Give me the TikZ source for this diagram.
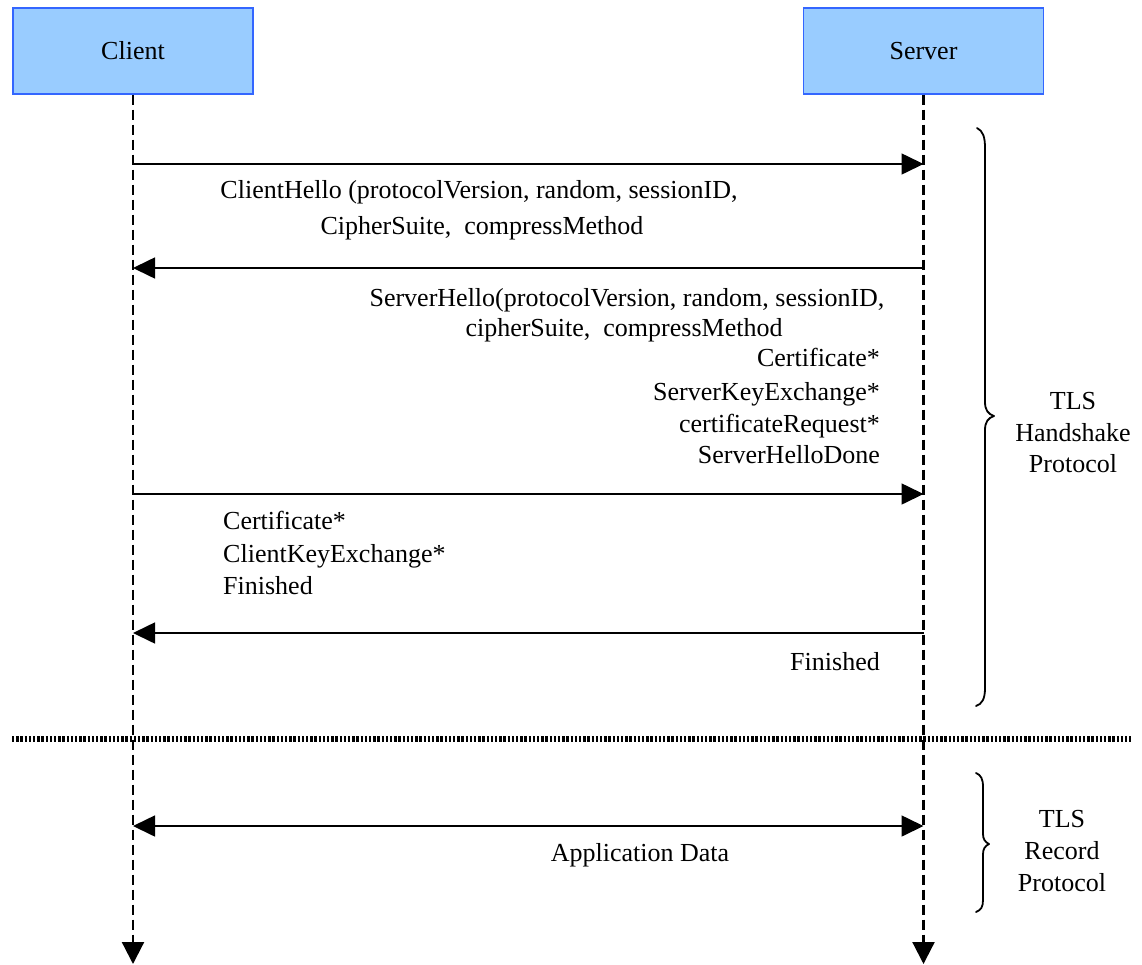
\documentclass[tikz,border=0pt]{standalone}
\usepackage{fontspec}
\setmainfont{Liberation Serif}
\usetikzlibrary{arrows.meta}
\definecolor{boxfill}{HTML}{99CCFF}
\definecolor{boxedge}{HTML}{3366FF}
\begin{document}
\begin{tikzpicture}[x=1pt,y=-1pt,
  font=\fontsize{26}{31}\selectfont,
  actor/.style={draw=boxedge, fill=boxfill, line width=1.2pt,
    minimum width=240pt, minimum height=86pt, inner sep=0pt},
  lifeline/.style={line width=2.2pt, dash pattern=on 10pt off 5pt,
    -{Triangle[length=22pt,width=22pt]}},
  msg/.style={line width=1.6pt, -{Triangle[length=22pt,width=21pt]}},
  dmsg/.style={line width=1.6pt,
    {Triangle[length=22pt,width=21pt]}-{Triangle[length=22pt,width=21pt]}},
  txt/.style={inner sep=0pt, yshift=-6pt},
  lw/.style={txt, anchor=mid west},
  le/.style={txt, anchor=mid east},
  lc/.style={txt, anchor=mid},
  bracepath/.style={line width=1.8pt, line join=round, line cap=round}]

\useasboundingbox (0,0) rectangle (1142,964);

% participants
\node[actor] (client) at (133,51) {Client};
\node[actor] (server) at (923.5,51) {Server};

% lifelines
\coordinate (cend) at (133,964);
\coordinate (send) at (923.5,964);
\draw[lifeline] (client.south) -- (cend);
\draw[lifeline] (server.south) -- (send);

% attachment points on the lifelines
\foreach \n/\y in {1/164,2/268,3/494,4/633,5/826}{
  \coordinate (c\n) at (133,\y);
  \coordinate (s\n) at (923.5,\y);
}

% handshake messages
\draw[msg] (c1) -- (s1);
\node[lc] (ch1) at (479,190) {ClientHello (protocolVersion, random, sessionID,};
\node[lc] (ch2) at (482,226) {CipherSuite,\ \ compressMethod};

\draw[msg] (s2) -- (c2);
\node[lc] (sh1) at (627,298) {ServerHello(protocolVersion, random, sessionID,};
\node[lc] (sh2) at (624,328) {cipherSuite,\ \ compressMethod};
\node[le] (sh3) at (880,358) {Certificate*};
\node[le] (sh4) at (880,392) {ServerKeyExchange*};
\node[le] (sh5) at (880,424) {certificateRequest*};
\node[le] (sh6) at (880,455) {ServerHelloDone};

\draw[msg] (c3) -- (s3);
\node[lw] (cc1) at (223,521) {Certificate*};
\node[lw] (cc2) at (223,554) {ClientKeyExchange*};
\node[lw] (cc3) at (223,586) {Finished};

\draw[msg] (s4) -- (c4);
\node[le] (sf) at (880,662) {Finished};

% separator between the two protocol layers
\coordinate (sepl) at (12,739);
\coordinate (sepr) at (1131,739);
\draw[line width=6pt, dash pattern=on 2.4pt off 1.8pt] (sepl) -- (sepr);

% record layer
\draw[dmsg] (c5) -- (s5);
\node[lc] (ad) at (640,853) {Application Data};

% braces
\draw[bracepath] (977,128) .. controls (983,131) and (985,137) .. (985,148)
  -- (985,402) .. controls (985,410) and (988,414) .. (994,416)
  .. controls (988,418) and (985,422) .. (985,430)
  -- (985,688) .. controls (985,699) and (982,704) .. (976,706);
\node[lc] (h1) at (1073,401) {TLS};
\node[lc] (h2) at (1073,433) {Handshake};
\node[lc] (h3) at (1073,464) {Protocol};

\draw[bracepath] (976,773) .. controls (981,775) and (983,779) .. (983,787)
  -- (983,834) .. controls (983,839) and (985,842) .. (989,844)
  .. controls (985,846) and (983,849) .. (983,854)
  -- (983,900) .. controls (983,907) and (981,910) .. (976,912);
\node[lc] (r1) at (1062,819) {TLS};
\node[lc] (r2) at (1062,851) {Record};
\node[lc] (r3) at (1062,883) {Protocol};
\end{tikzpicture}
\end{document}
